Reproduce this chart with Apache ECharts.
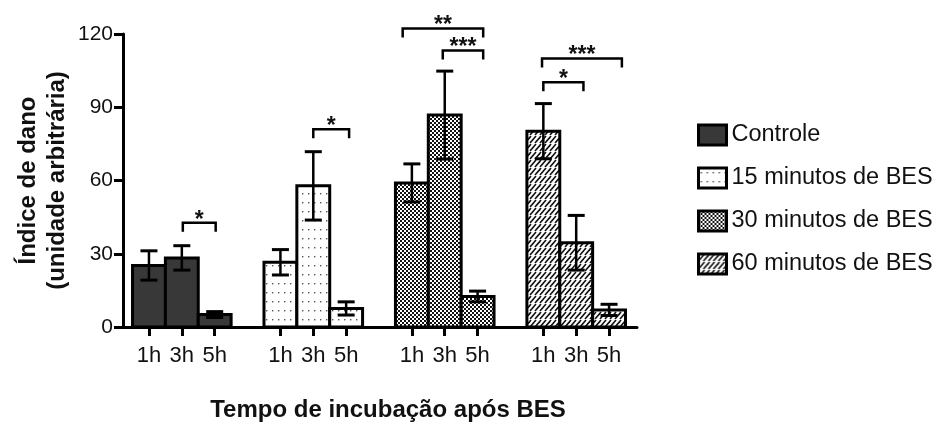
<!DOCTYPE html>
<html>
<head>
<meta charset="utf-8">
<script src="https://cdn.jsdelivr.net/npm/echarts@6/dist/echarts.min.js"></script>
<style>
  html, body { margin: 0; padding: 0; background: #fff; }
  #chart { width: 941px; height: 423px; }
</style>
</head>
<body>
<div id="chart"></div>
<script>
// Treatment groups and incubation times
const groups = ['Controle', '15 minutos de BES', '30 minutos de BES', '60 minutos de BES'];
const timeLabels = ['1h', '3h', '5h'];

// Mean damage index per time point (1h, 3h, 5h) and standard error
const controleMean = [25.2, 28.3, 5.1];
const controleErr  = [6.0, 5.0, 1.2];
const min15Mean    = [26.5, 57.8, 7.6];
const min15Err     = [5.2, 14.0, 2.7];
const min30Mean    = [59.0, 86.8, 12.5];
const min30Err     = [7.8, 18.0, 2.2];
const min60Mean    = [80.2, 34.5, 7.0];
const min60Err     = [11.3, 11.2, 2.3];

// Significance brackets: [start, end] on the bar axis, height on the value axis, stars
const significance = [
  [1.03, 2.03, 42.7, '*'],
  [5.00, 6.09, 81.0, '*'],
  [7.72, 10.17, 122.3, '**'],
  [8.94, 10.17, 113.2, '***'],
  [11.96, 14.39, 110.0, '***'],
  [12.00, 13.22, 100.2, '*']
];

const means = [controleMean, min15Mean, min30Mean, min60Mean];
const errs = [controleErr, min15Err, min30Err, min60Err];

const FONT = "'Liberation Sans', Arial, Helvetica, sans-serif";

// ---- fill patterns ----
function tile(w, h, draw) {
  const c = document.createElement('canvas');
  c.width = w; c.height = h;
  const ctx = c.getContext('2d');
  draw(ctx, w, h);
  return { image: c, repeat: 'repeat' };
}
const dotFill = tile(6, 9, (ctx, w, h) => {
  ctx.fillStyle = '#fff'; ctx.fillRect(0, 0, w, h);
  ctx.fillStyle = '#555'; ctx.fillRect(2, 4, 1.4, 1.4);
});
const checkFill = tile(4, 4, (ctx, w, h) => {
  ctx.fillStyle = '#fff'; ctx.fillRect(0, 0, w, h);
  ctx.fillStyle = '#111';
  ctx.fillRect(0, 0, 2, 2); ctx.fillRect(2, 2, 2, 2);
});
const hatchFill = tile(10, 8, (ctx, w, h) => {
  ctx.fillStyle = '#fff'; ctx.fillRect(0, 0, w, h);
  ctx.strokeStyle = '#111'; ctx.lineWidth = 1.6;
  for (let k = -10; k <= 10; k += 5) {
    ctx.beginPath(); ctx.moveTo(k, 7); ctx.lineTo(k + 6, 0); ctx.stroke();
  }
});
const fills = ['#383838', dotFill, checkFill, hatchFill];

// slot index on the bar axis: 3 bars per group plus one empty slot between groups
const slotOf = (g, t) => g * 4 + t;
const tickSlots = [];
groups.forEach((_, g) => timeLabels.forEach((_, t) => tickSlots.push(slotOf(g, t))));

function barItem(params, api) {
  const x = api.value(0), m = api.value(1), se = api.value(2);
  const base = api.coord([x, 0]);
  const top = api.coord([x, m]);
  const eHi = api.coord([x, m + se]);
  const eLo = api.coord([x, m - se]);
  const w = api.size([1, 0])[0];
  const cap = 17;
  const fill = fills[params.seriesIndex];
  return {
    type: 'group',
    children: [
      { type: 'rect', shape: { x: base[0] - w / 2, y: top[1], width: w, height: base[1] - top[1] },
        style: { fill: fill, stroke: '#000', lineWidth: 3 } },
      { type: 'line', shape: { x1: eLo[0], y1: eLo[1], x2: eHi[0], y2: eHi[1] },
        style: { stroke: '#000', lineWidth: 2.5 } },
      { type: 'line', shape: { x1: eHi[0] - cap / 2, y1: eHi[1], x2: eHi[0] + cap / 2, y2: eHi[1] },
        style: { stroke: '#000', lineWidth: 3 } },
      { type: 'line', shape: { x1: eLo[0] - cap / 2, y1: eLo[1], x2: eLo[0] + cap / 2, y2: eLo[1] },
        style: { stroke: '#000', lineWidth: 3 } }
    ]
  };
}

function bracketItem(params, api) {
  const a = api.coord([api.value(0), api.value(2)]);
  const b = api.coord([api.value(1), api.value(2)]);
  const leg = 9;
  const label = significance[params.dataIndex][3];
  return {
    type: 'group',
    children: [
      { type: 'polyline', shape: { points: [[a[0], a[1] + leg], [a[0], a[1]], [b[0], b[1]], [b[0], b[1] + leg]] },
        style: { stroke: '#000', lineWidth: 2.5, fill: null } },
      { type: 'text', x: (a[0] + b[0]) / 2, y: a[1] + 9,
        style: { text: label, fontSize: 23, fontWeight: 'bold', fontFamily: FONT, fill: '#111',
                 align: 'center', verticalAlign: 'bottom' } }
    ]
  };
}

const series = groups.map((name, g) => ({
  name: name,
  type: 'custom',
  renderItem: barItem,
  encode: { x: 0, y: 1 },
  data: means[g].map((m, t) => [slotOf(g, t), m, errs[g][t]]),
  z: 2
}));
series.push({
  name: 'sig',
  type: 'custom',
  renderItem: bracketItem,
  encode: { x: [0, 1], y: 2 },
  data: significance.map(s => [s[0], s[1], s[2]]),
  clip: false,
  z: 3
});

const chart = echarts.init(document.getElementById('chart'), null, { renderer: 'canvas' });
chart.setOption({
  backgroundColor: '#fff',
  animation: false,
  grid: { left: 123, right: 304, top: 34, bottom: 96, outerBoundsMode: 'none', containLabel: false },
  xAxis: {
    type: 'value',
    min: -0.79,
    max: 14.85,
    name: 'Tempo de incubação após BES',
    nameLocation: 'middle',
    nameGap: 71,
    nameMoveOverlap: false,
    nameTextStyle: { fontSize: 24, fontWeight: 'bold', fontFamily: FONT, color: '#111', padding: [0, 0, 0, 16] },
    splitLine: { show: false },
    axisLine: { show: true, onZero: false, lineStyle: { color: '#000', width: 3 } },
    axisTick: { show: true, customValues: tickSlots, length: 9, inside: false, lineStyle: { color: '#000', width: 3 } },
    axisLabel: {
      customValues: tickSlots,
      formatter: v => timeLabels[Math.round(v) % 4],
      fontSize: 22, fontFamily: FONT, color: '#111', margin: 18
    }
  },
  yAxis: {
    type: 'value',
    min: 0,
    max: 120,
    interval: 30,
    name: 'Índice de dano\n(unidade arbitrária)',
    nameLocation: 'middle',
    nameGap: 51,
    nameRotate: 90,
    nameMoveOverlap: false,
    nameTextStyle: { fontSize: 24, fontWeight: 'bold', fontFamily: FONT, color: '#111', lineHeight: 29 },
    splitLine: { show: false },
    axisLine: { show: true, onZero: false, lineStyle: { color: '#000', width: 3 } },
    axisTick: { show: true, length: 9, lineStyle: { color: '#000', width: 3 } },
    axisLabel: { fontSize: 21, fontFamily: FONT, color: '#111', margin: 10 }
  },
  legend: {
    orient: 'vertical',
    left: 692,
    top: 118,
    icon: 'rect',
    itemWidth: 28,
    itemHeight: 20,
    itemGap: 19,
    selectedMode: false,
    textStyle: { fontSize: 23.5, fontFamily: FONT, color: '#111' },
    data: groups.map((n, i) => ({
      name: n,
      itemStyle: { color: fills[i], borderColor: '#000', borderWidth: 3 }
    }))
  },
  series: series
});
</script>
</body>
</html>
